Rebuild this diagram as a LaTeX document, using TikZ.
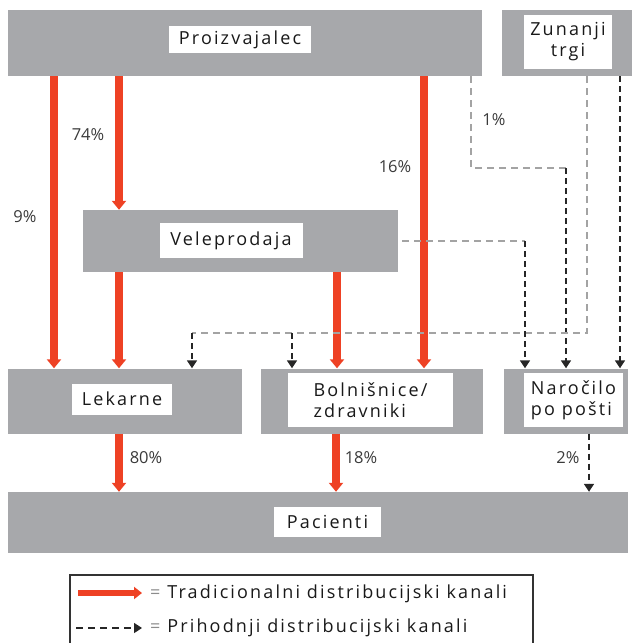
\documentclass[tikz,border=0pt]{standalone}
\usepackage{fontspec}
\setmainfont{Open Sans}
\newfontfamily\labfont[LetterSpace=12]{Open Sans}
\usetikzlibrary{arrows.meta}
\definecolor{boxgray}{HTML}{A7A8AB}
\definecolor{flowred}{HTML}{EE4124}
\definecolor{dashgray}{HTML}{A3A3A3}
\definecolor{pcttext}{HTML}{3A3A3A}
\begin{document}
\begin{tikzpicture}[x=1pt,y=-1pt,
  graybox/.style={fill=boxgray,draw=none,minimum width=#1,inner sep=0pt},
  labelbox/.style={fill=white,draw=none,inner sep=0pt,font=\labfont\fontsize{18}{21}\selectfont,text=black!90},
  redflow/.style={draw=flowred,line width=8pt,-{Triangle[width=14pt,length=9pt]},color=flowred},
  bdash/.style={draw=black!85,line width=1.6pt,dash pattern=on 6pt off 4pt,-{Triangle[width=10pt,length=8pt]}},
  gdash/.style={draw=dashgray,line width=2pt,dash pattern=on 7pt off 5pt},
  pct/.style={font=\fontsize{16.5}{18}\selectfont,text=pcttext,inner sep=0pt}]
\useasboundingbox (0,0) rectangle (632,643);

% gray boxes
\node[graybox=474pt,minimum height=66pt] (prz) at (245,43) {};
\node[graybox=130pt,minimum height=66pt] (zun) at (567,43) {};
\node[graybox=315pt,minimum height=62pt] (vel) at (240.5,241) {};
\node[graybox=234pt,minimum height=65pt] (lek) at (125,401) {};
\node[graybox=222pt,minimum height=65pt] (bol) at (372,401) {};
\node[graybox=124pt,minimum height=65pt] (nar) at (566,401) {};
\node[graybox=620pt,minimum height=61pt] (pac) at (318,522.5) {};

% white labels
\node[labelbox,minimum width=142pt,minimum height=27pt] (przl) at (240,39.5) {Proizvajalec};
\node[labelbox,minimum width=88pt,minimum height=54pt,align=center] (zunl) at (568,42) {Zunanji\\trgi};
\node[labelbox,minimum width=143pt,minimum height=35pt] (vell) at (231,240.5) {Veleprodaja};
\node[labelbox,minimum width=100pt,minimum height=31pt] (lekl) at (122,399) {Lekarne};
\node[labelbox,minimum width=165pt,minimum height=54pt,align=left] (boll) at (370.5,400) {Bolnišnice/\\zdravniki};
\node[labelbox,minimum width=99pt,minimum height=54pt,align=left] (narl) at (573.5,400) {Naročilo\\po pošti};
\node[labelbox,minimum width=107pt,minimum height=30pt] (pacl) at (327.5,522) {Pacienti};

% coordinates for dashed routes
\coordinate (c1) at (566,168);
\coordinate (c2) at (192,333);
\coordinate (c3) at (292,333);
\coordinate (c4) at (525,241);

% red traditional flows
\draw[redflow] (prz.south -| 54,0) -- (lek.north -| 54,0);
\draw[redflow] (prz.south -| 119,0) -- (vel.north -| 119,0);
\draw[redflow] (prz.south -| 424,0) -- (bol.north -| 424,0);
\draw[redflow] (vel.south -| 119,0) -- (lek.north -| 119,0);
\draw[redflow] (vel.south -| 337,0) -- (bol.north -| 337,0);
\draw[redflow] (lek.south -| 119,0) -- (pac.north -| 119,0);
\draw[redflow] (bol.south -| 336,0) -- (pac.north -| 336,0);

% dashed future flows
\draw[gdash] (prz.south -| 471,0) |- (c1);
\draw[bdash] (c1) -- (nar.north -| c1);
\draw[gdash] (zun.south -| 587,0) |- (c2);
\draw[bdash] (c2) -- (lek.north -| c2);
\draw[bdash] (c3) -- (bol.north -| c3);
\draw[bdash] (zun.south -| 620,0) -- (nar.north -| 620,0);
\draw[gdash] (vel.east) ++(4,0) -- (c4);
\draw[bdash] (c4) -- (nar.north -| c4);
\draw[bdash] (nar.south -| 589,0) -- (pac.north -| 589,0);

% percentages
\node[pct] (p9) at (25,217) {9\%};
\node[pct] (p74) at (88,135) {74\%};
\node[pct] (p16) at (395,167) {16\%};
\node[pct] (p1) at (494,120) {1\%};
\node[pct] (p80) at (146,458) {80\%};
\node[pct] (p18) at (361,458) {18\%};
\node[pct] (p2) at (568,458) {2\%};

% legend
\draw[black!80,line width=1.5pt] (70,646) -- (70,575) -- (533,575) -- (533,646);
\coordinate (l1a) at (78,593);
\coordinate (l1b) at (142,593);
\coordinate (l2a) at (76,628);
\coordinate (l2b) at (142,628);
\draw[draw=flowred,line width=6pt,-{Triangle[width=12pt,length=8pt]},color=flowred] (l1a) -- (l1b);
\draw[bdash,dash pattern=on 7pt off 5pt] (l2a) -- (l2b);
\node[anchor=west,inner sep=0pt,font=\labfont\fontsize{18}{21}\selectfont,text=black!90] (lt1) at (150,594) {\textcolor{black!45}{=} Tradicionalni distribucijski kanali};
\node[anchor=west,inner sep=0pt,font=\labfont\fontsize{18}{21}\selectfont,text=black!90] (lt2) at (150,628) {\textcolor{black!45}{=} Prihodnji distribucijski kanali};
\end{tikzpicture}
\end{document}
